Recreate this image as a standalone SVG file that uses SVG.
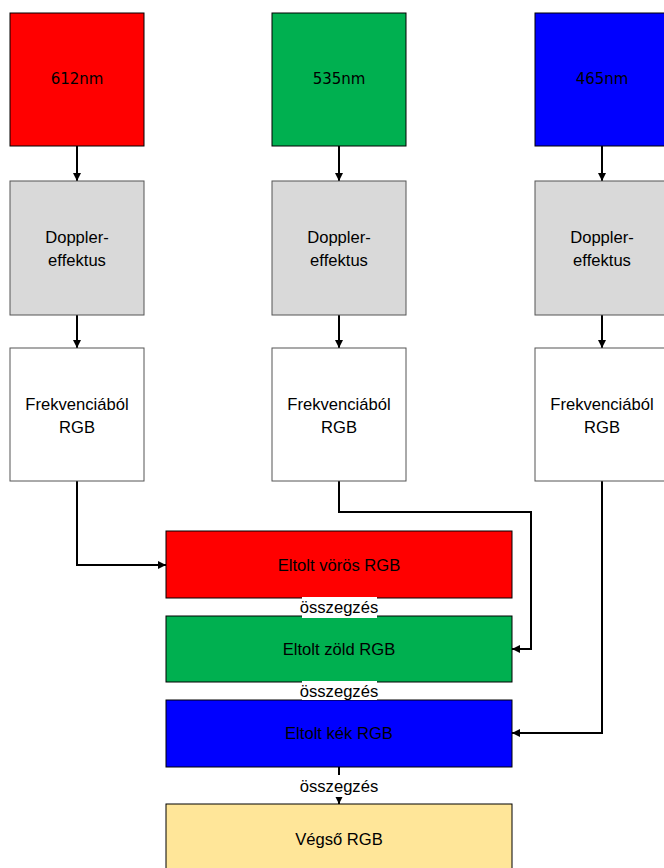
<svg xmlns="http://www.w3.org/2000/svg" width="664" height="868" viewBox="0 0 664 868">
<defs>
<marker id="ah" viewBox="0 0 10 10" refX="10" refY="5" markerWidth="4" markerHeight="4" orient="auto" markerUnits="strokeWidth">
<path d="M0,0 L10,5 L0,10 z" fill="#000"/>
</marker>
<style>
.t{font-family:"Liberation Sans",Arial,sans-serif;font-size:16.6px;fill:#000;text-anchor:middle;dominant-baseline:central}
.nm{font-family:"DejaVu Sans",sans-serif;font-size:15px;fill:#000;text-anchor:middle;dominant-baseline:central}
.box{stroke:#000;stroke-width:1}
.gbox{stroke:#555;stroke-width:1}
.c{fill:none;stroke:#000;stroke-width:2;marker-end:url(#ah)}
.lbl{fill:#fff}
</style>
</defs>
<rect width="664" height="868" fill="#fff"/>
<g id="connectors">
<path class="c" d="M77,146 V181"/>
<path class="c" d="M339,146 V181"/>
<path class="c" d="M602,146 V181"/>
<path class="c" d="M77,315 V348"/>
<path class="c" d="M339,315 V348"/>
<path class="c" d="M602,315 V348"/>
<path class="c" d="M77,481 V565 H166"/>
<path class="c" d="M339,481 V512 H531 V649 H512"/>
<path class="c" d="M602,481 V733 H512"/>
<path class="c" d="M339,767 V804"/>
</g>
<g id="n612"><rect class="box" x="10" y="13" width="134" height="133" fill="#FF0000"/><text class="nm" x="77" y="79">612nm</text></g>
<g id="n535"><rect class="box" x="272" y="13" width="134" height="133" fill="#00B050"/><text class="nm" x="339" y="79">535nm</text></g>
<g id="n465"><rect class="box" x="535" y="13" width="134" height="133" fill="#0000FF"/><text class="nm" x="602" y="79">465nm</text></g>
<g id="d1"><rect class="gbox" x="10" y="181" width="134" height="134" fill="#D9D9D9"/><text class="t" x="77" y="237">Doppler-</text><text class="t" x="77" y="260">effektus</text></g>
<g id="d2"><rect class="gbox" x="272" y="181" width="134" height="134" fill="#D9D9D9"/><text class="t" x="339" y="237">Doppler-</text><text class="t" x="339" y="260">effektus</text></g>
<g id="d3"><rect class="gbox" x="535" y="181" width="134" height="134" fill="#D9D9D9"/><text class="t" x="602" y="237">Doppler-</text><text class="t" x="602" y="260">effektus</text></g>
<g id="f1"><rect class="gbox" x="10" y="348" width="134" height="133" fill="#fff"/><text class="t" x="77" y="404">Frekvenciából</text><text class="t" x="77" y="427">RGB</text></g>
<g id="f2"><rect class="gbox" x="272" y="348" width="134" height="133" fill="#fff"/><text class="t" x="339" y="404">Frekvenciából</text><text class="t" x="339" y="427">RGB</text></g>
<g id="f3"><rect class="gbox" x="535" y="348" width="134" height="133" fill="#fff"/><text class="t" x="602" y="404">Frekvenciából</text><text class="t" x="602" y="427">RGB</text></g>
<g id="red"><rect class="box" x="166" y="531" width="346" height="67" fill="#FF0000"/><text class="t" x="339" y="565">Eltolt vörös RGB</text></g>
<g id="green"><rect class="box" x="166" y="616" width="346" height="66" fill="#00B050"/><text class="t" x="339" y="649">Eltolt zöld RGB</text></g>
<g id="blue"><rect class="box" x="166" y="700" width="346" height="67" fill="#0000FF"/><text class="t" x="339" y="733">Eltolt kék RGB</text></g>
<g id="final"><rect class="box" x="166" y="804" width="346" height="70" fill="#FFE699"/><text class="t" x="339" y="839">Végső RGB</text></g>
<g id="labels">
<rect class="lbl" x="302" y="597" width="75" height="21"/><text class="t" x="339" y="607">összegzés</text>
<rect class="lbl" x="302" y="681" width="75" height="19"/><text class="t" x="339" y="691">összegzés</text>
<rect class="lbl" x="302" y="775" width="75" height="22"/><text class="t" x="339" y="786">összegzés</text>
</g>
</svg>
